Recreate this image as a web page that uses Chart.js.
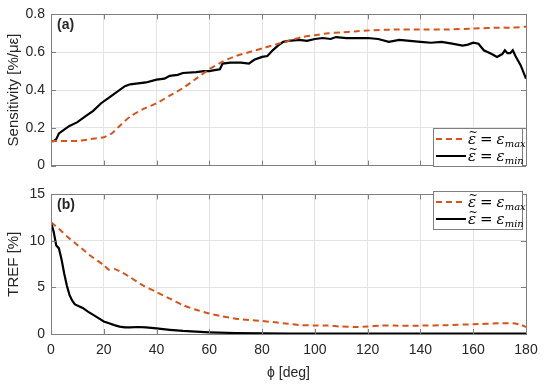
<!DOCTYPE html>
<html>
<head>
<meta charset="utf-8">
<script src="https://cdn.jsdelivr.net/npm/chart.js@4/dist/chart.umd.min.js"></script>
<style>
  html, body { margin: 0; padding: 0; background: #fff; }
  #wrap { position: relative; width: 550px; height: 389px; }
  #top { position: absolute; left: 0; top: 0; }
  #bot { position: absolute; left: 0; top: 180px; }
</style>
</head>
<body>
<div id="wrap">
  <div id="top" style="width:550px;height:180px"><canvas id="sensChart"></canvas></div>
  <div id="bot" style="width:550px;height:209px"><canvas id="trefChart"></canvas></div>
</div>
<script>
// (a) sensitivity, eps = eps_max (dashed)
const phiSensMax = [0, 5, 10, 15, 20, 23, 26, 30, 35, 40, 45, 50, 55, 60, 65, 70, 75, 80, 85, 90, 95, 100, 105, 110, 115, 120, 130, 140, 150, 160, 170, 175, 180];
const sensMax = [0.13, 0.13, 0.13, 0.14, 0.15, 0.17, 0.21, 0.26, 0.30, 0.33, 0.37, 0.41, 0.46, 0.51, 0.55, 0.58, 0.60, 0.62, 0.64, 0.66, 0.68, 0.69, 0.70, 0.705, 0.71, 0.715, 0.72, 0.72, 0.72, 0.725, 0.73, 0.73, 0.735];

// (a) sensitivity, eps = eps_min (solid)
const phiSensMin = [0, 1, 2, 3, 5, 7, 10, 13, 16, 19, 22, 25, 28, 30, 33, 36, 40, 43, 45, 48, 50, 55, 58, 60, 62, 64, 65, 68, 72, 75, 77, 80, 82, 84, 86, 88, 90, 94, 97, 100, 103, 106, 108, 112, 120, 124, 128, 132, 136, 140, 144, 148, 152, 156, 158, 160, 162, 164, 167, 169, 171, 172, 173, 174, 175, 176, 178, 180];
const sensMin = [0.13, 0.13, 0.14, 0.17, 0.19, 0.21, 0.23, 0.26, 0.29, 0.33, 0.36, 0.39, 0.42, 0.43, 0.435, 0.44, 0.455, 0.46, 0.475, 0.48, 0.49, 0.495, 0.50, 0.50, 0.505, 0.51, 0.54, 0.545, 0.545, 0.54, 0.56, 0.575, 0.58, 0.61, 0.635, 0.655, 0.66, 0.665, 0.66, 0.67, 0.675, 0.67, 0.68, 0.675, 0.675, 0.67, 0.655, 0.665, 0.66, 0.655, 0.65, 0.655, 0.645, 0.635, 0.64, 0.65, 0.645, 0.61, 0.59, 0.575, 0.59, 0.61, 0.595, 0.595, 0.61, 0.58, 0.53, 0.46];

// (b) TREF, eps = eps_max (dashed)
const phiTrefMax = [0, 3, 6, 9, 12, 15, 18, 20, 22, 24, 27, 30, 35, 40, 45, 50, 55, 60, 65, 70, 75, 80, 85, 90, 95, 100, 105, 110, 115, 120, 125, 130, 140, 150, 160, 170, 175, 178, 180];
const trefMax = [12, 11.3, 10.5, 9.8, 9.1, 8.4, 7.8, 7.4, 6.9, 7.0, 6.6, 6.1, 5.2, 4.5, 3.8, 3.1, 2.6, 2.2, 1.9, 1.65, 1.5, 1.4, 1.25, 1.1, 0.95, 0.92, 0.9, 0.8, 0.75, 0.8, 0.9, 0.9, 0.9, 0.95, 1.05, 1.15, 1.15, 1.0, 0.75];

// (b) TREF, eps = eps_min (solid)
const phiTrefMin = [0, 1, 2, 3, 4, 5, 6, 7, 8, 9, 10, 12, 14, 16, 18, 20, 22, 24, 26, 28, 30, 33, 36, 40, 45, 50, 55, 60, 70, 80, 90, 100, 120, 140, 160, 180];
const trefMin = [12, 11, 9.5, 9.2, 8.0, 6.5, 5.2, 4.2, 3.6, 3.2, 3.05, 2.8, 2.4, 2.05, 1.7, 1.35, 1.15, 0.95, 0.8, 0.72, 0.72, 0.75, 0.72, 0.6, 0.45, 0.33, 0.25, 0.18, 0.1, 0.07, 0.05, 0.04, 0.03, 0.03, 0.03, 0.03];

const phiTicks = [0, 20, 40, 60, 80, 100, 120, 140, 160, 180];

const ORANGE = "#D95319";
const TXT = "#262626";
const FONT = "'Liberation Sans', Arial, sans-serif";
const MATH = "'DejaVu Serif', serif";

function pts(xs, ys) {
  return xs.map((x, i) => ({ x: x, y: ys[i] }));
}

// box, inward ticks, y title, panel label and legend with subscripts
const matlabBox = {
  id: "matlabBox",
  afterDraw(chart, args, opts) {
    const ctx = chart.ctx;
    const a = chart.chartArea;
    ctx.save();
    ctx.strokeStyle = "#7f7f7f";
    ctx.lineWidth = 1;
    // tick marks inward
    ctx.beginPath();
    chart.scales.x.ticks.forEach(t => {
      const px = Math.round(chart.scales.x.getPixelForValue(t.value)) + 0.5;
      ctx.moveTo(px, a.bottom); ctx.lineTo(px, a.bottom - 5);
      ctx.moveTo(px, a.top); ctx.lineTo(px, a.top + 5);
    });
    chart.scales.y.ticks.forEach(t => {
      const py = Math.round(chart.scales.y.getPixelForValue(t.value)) + 0.5;
      ctx.moveTo(a.left, py); ctx.lineTo(a.left + 5, py);
      ctx.moveTo(a.right, py); ctx.lineTo(a.right - 5, py);
    });
    ctx.stroke();
    ctx.strokeRect(Math.round(a.left) + 0.5, Math.round(a.top) + 0.5, Math.round(a.right - a.left), Math.round(a.bottom - a.top));

    // y axis title
    ctx.save();
    ctx.translate(14, (a.top + a.bottom) / 2);
    ctx.rotate(-Math.PI / 2);
    ctx.fillStyle = TXT;
    ctx.font = "15px " + FONT;
    ctx.textAlign = "center";
    ctx.textBaseline = "middle";
    ctx.fillText(opts.yTitle, 0, 0);
    ctx.restore();

    // panel label
    ctx.fillStyle = TXT;
    ctx.font = "bold 14px " + FONT;
    ctx.textBaseline = "middle";
    ctx.fillText(opts.label, a.left + 6, a.top + 11);

    // legend
    const lx = opts.lx, ly = opts.ly;
    ctx.fillStyle = "#fff";
    ctx.fillRect(lx, ly, 89, 38);
    ctx.strokeStyle = "#7f7f7f";
    ctx.strokeRect(lx + 0.5, ly + 0.5, 89, 38);
    const rows = [
      { sub: "max", color: ORANGE, dash: [6, 4] },
      { sub: "min", color: "#000", dash: [] }
    ];
    rows.forEach((r, i) => {
      const yy = ly + 11 + i * 17;
      ctx.strokeStyle = r.color;
      ctx.lineWidth = 2;
      ctx.setLineDash(r.dash);
      ctx.beginPath();
      ctx.moveTo(lx + 3, yy); ctx.lineTo(lx + 33, yy);
      ctx.stroke();
      ctx.setLineDash([]);
      ctx.fillStyle = "#000";
      ctx.textAlign = "left";
      ctx.font = "italic 15px " + MATH;
      let tx = lx + 35;
      ctx.fillText("\u03B5", tx, yy + 1);
      const ew = ctx.measureText("\u03B5").width;
      ctx.font = "11px " + MATH;
      ctx.textAlign = "center";
      ctx.fillText("~", tx + ew / 2 + 1, yy - 6);
      ctx.textAlign = "left";
      tx += ew + 4;
      ctx.font = "15px " + MATH;
      ctx.fillText("=", tx, yy + 1);
      tx += ctx.measureText("=").width + 4;
      ctx.font = "italic 15px " + MATH;
      ctx.fillText("\u03B5", tx, yy + 1);
      tx += ctx.measureText("\u03B5").width;
      ctx.font = "italic 10px " + MATH;
      ctx.fillText(r.sub, tx, yy + 5);
    });
    ctx.restore();
  }
};

function makeChart(id, cfg) {
  return new Chart(document.getElementById(id).getContext("2d"), {
    type: "line",
    data: {
      datasets: [
        {
          label: "max",
          data: cfg.maxData,
          borderColor: ORANGE,
          borderWidth: 2,
          borderDash: [6, 4],
          pointRadius: 0,
          tension: 0.2
        },
        {
          label: "min",
          data: cfg.minData,
          borderColor: "#000",
          borderWidth: 2.2,
          pointRadius: 0,
          tension: 0
        }
      ]
    },
    options: {
      responsive: true,
      maintainAspectRatio: false,
      animation: false,
      layout: { padding: cfg.padding },
      plugins: {
        legend: { display: false },
        tooltip: { enabled: false },
        matlabBox: { label: cfg.label, lx: 433, ly: cfg.legendY, yTitle: cfg.yTitle }
      },
      scales: {
        x: {
          type: "linear",
          min: 0,
          max: 180,
          afterBuildTicks: s => { s.ticks = phiTicks.map(v => ({ value: v })); },
          afterFit: s => { s.height = cfg.xHeight; },
          grid: { color: "#e3e3e3", drawTicks: false },
          border: { display: false },
          ticks: {
            display: cfg.showX,
            padding: 8,
            color: TXT,
            font: { family: FONT, size: 14 }
          },
          title: {
            display: cfg.showX,
            text: "\u03D5 [deg]",
            color: TXT,
            padding: { top: 2, bottom: 0 },
            font: { family: FONT, size: 14 }
          }
        },
        y: {
          min: cfg.yMin,
          max: cfg.yMax,
          afterBuildTicks: s => { s.ticks = cfg.yTicks.map(v => ({ value: v })); },
          afterFit: s => { s.width = 51; },
          grid: { color: "#e3e3e3", drawTicks: false },
          border: { display: false },
          ticks: {
            padding: 6,
            color: TXT,
            font: { family: FONT, size: 14 },
            callback: v => cfg.fmt(v)
          }
        }
      }
    },
    plugins: [matlabBox]
  });
}

makeChart("sensChart", {
  maxData: pts(phiSensMax, sensMax),
  minData: pts(phiSensMin, sensMin),
  padding: { top: 14, right: 24, left: 0, bottom: 0 },
  xHeight: 9,
  showX: false,
  yMin: 0, yMax: 0.8,
  yTicks: [0, 0.2, 0.4, 0.6, 0.8],
  fmt: v => (v === 0 ? "0" : v.toFixed(1)),
  yTitle: "Sensitivity [%/\u03BC\u03B5]",
  label: "(a)",
  legendY: 128
});

makeChart("trefChart", {
  maxData: pts(phiTrefMax, trefMax),
  minData: pts(phiTrefMin, trefMin),
  padding: { top: 8, right: 24, left: 0, bottom: 7 },
  xHeight: 48,
  showX: true,
  yMin: 0, yMax: 15,
  yTicks: [0, 5, 10, 15],
  fmt: v => String(v),
  yTitle: "TREF [%]",
  label: "(b)",
  legendY: 11
});
</script>
</body>
</html>
